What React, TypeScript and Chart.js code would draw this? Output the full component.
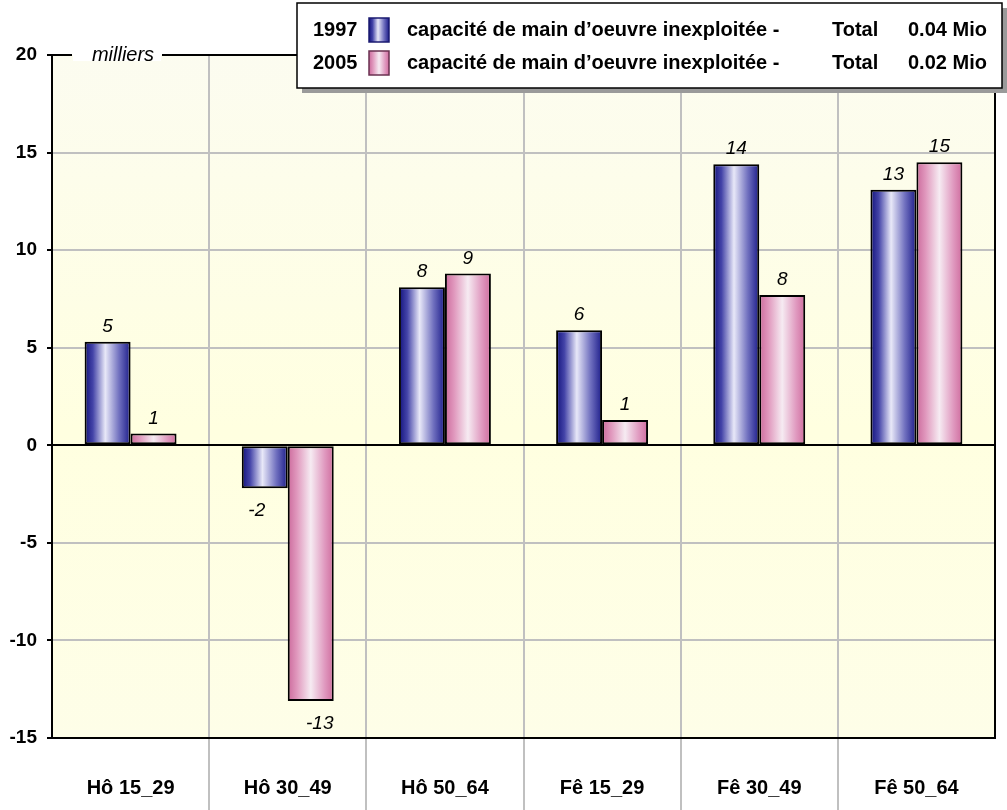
import React, { useEffect, useRef } from "react";
import { Chart, registerables } from "chart.js";

Chart.register(...registerables);

// ---------- data ----------
const categories = ["Hô 15_29", "Hô 30_49", "Hô 50_64", "Fê 15_29", "Fê 30_49", "Fê 50_64"];
const values1997 = [5.3, -2.2, 8.1, 5.9, 14.4, 13.1];
const values2005 = [0.6, -13.1, 8.8, 1.3, 7.7, 14.5];
const seriesYears = ["1997", "2005"];
const seriesLabel = "capacité de main d’oeuvre inexploitée -";
const totalLabel = "Total";
const totals = ["0.04 Mio", "0.02 Mio"];
const yTickValues = [-15, -10, -5, 0, 5, 10, 15, 20];
const unitLabel = "milliers";

// ---------- styles ----------
const FONT = '"Liberation Sans", Arial, Helvetica, sans-serif';
const CAT_PCT = 0.585;
const Y_MIN = -15;
const Y_MAX = 20;

const blueStops: [number, string][] = [
  [0, "#12127c"],
  [0.18, "#4444a8"],
  [0.45, "#e8e8f8"],
  [0.75, "#7070bf"],
  [1, "#1c1c8a"],
];
const pinkStops: [number, string][] = [
  [0, "#cc6a9c"],
  [0.2, "#e098bd"],
  [0.5, "#f6ebf2"],
  [0.8, "#e09ac0"],
  [1, "#cf6c9e"],
];

function barGradient(stops: [number, string][]) {
  return (ctx: any) => {
    const chart = ctx.chart;
    const a = chart.chartArea;
    const xs = chart.scales && chart.scales.x;
    if (!a || !xs || ctx.type !== "data") return stops[2][1];
    const center = xs.getPixelForValue(ctx.dataIndex);
    const cat = (a.right - a.left) / categories.length;
    const w = (cat * CAT_PCT) / 2;
    const left = ctx.datasetIndex === 0 ? center - w : center;
    const g = chart.ctx.createLinearGradient(left, 0, left + w, 0);
    stops.forEach(([o, c]) => g.addColorStop(o, c));
    return g;
  };
}

function drawText(
  ctx: CanvasRenderingContext2D,
  text: string,
  x: number,
  y: number,
  font: string,
  align: CanvasTextAlign,
  baseline: CanvasTextBaseline
) {
  ctx.save();
  ctx.font = font;
  ctx.textAlign = align;
  ctx.textBaseline = baseline;
  ctx.fillStyle = "#000";
  ctx.fillText(text, x, y);
  ctx.restore();
}

const customPlugin = {
  id: "customDecor",
  beforeDraw(chart: any) {
    const { ctx, chartArea: a } = chart;
    ctx.save();
    ctx.fillStyle = "#fff";
    ctx.fillRect(0, 0, chart.width, chart.height);
    const g = ctx.createLinearGradient(0, a.top, 0, a.bottom);
    g.addColorStop(0, "#fcfcf0");
    g.addColorStop(0.55, "#ffffe0");
    g.addColorStop(1, "#fefee8");
    ctx.fillStyle = g;
    ctx.fillRect(a.left, a.top, a.right - a.left, a.bottom - a.top);
    ctx.restore();
  },
  afterDatasetsDraw(chart: any) {
    const { ctx } = chart;
    chart.data.datasets.forEach((ds: any, di: number) => {
      const meta = chart.getDatasetMeta(di);
      meta.data.forEach((el: any, i: number) => {
        const v = ds.data[i];
        const txt = String(Math.round(v));
        ctx.save();
        ctx.font = `italic 19px ${FONT}`;
        ctx.fillStyle = "#000";
        ctx.textAlign = "center";
        if (v >= 0) {
          ctx.textBaseline = "alphabetic";
          ctx.fillText(txt, el.x, el.y - 10);
        } else {
          ctx.textBaseline = "top";
          ctx.fillText(txt, el.x + (di === 0 ? -8 : 9), el.y + 13);
        }
        ctx.restore();
      });
    });
  },
  afterDraw(chart: any) {
    const { ctx, chartArea: a } = chart;
    const xs = chart.scales.x;
    const n = categories.length;
    const cat = (a.right - a.left) / n;

    // grid extensions below the plot
    ctx.save();
    ctx.strokeStyle = "#c0c0c0";
    ctx.lineWidth = 2;
    for (let i = 1; i < n; i++) {
      const x = Math.round(a.left + cat * i);
      ctx.beginPath();
      ctx.moveTo(x, a.bottom + 1);
      ctx.lineTo(x, chart.height);
      ctx.stroke();
    }
    ctx.restore();

    // frame: right border and top line with unit label
    ctx.save();
    ctx.strokeStyle = "#000";
    ctx.lineWidth = 2;
    ctx.beginPath();
    ctx.moveTo(a.right, a.top);
    ctx.lineTo(a.right, a.bottom + 1);
    ctx.moveTo(a.left - 5, a.top);
    ctx.lineTo(a.left + 20, a.top);
    ctx.moveTo(a.left + 110, a.top);
    ctx.lineTo(a.right, a.top);
    ctx.stroke();
    ctx.fillStyle = "#fff";
    ctx.fillRect(a.left + 21, a.top - 10, 88, 16);
    ctx.restore();
    drawText(ctx, unitLabel, a.left + 71, a.top, `italic 20px ${FONT}`, "center", "middle");

    // x labels
    categories.forEach((c, i) => {
      const x = xs.getPixelForValue(i);
      drawText(ctx, c, x, 788, `bold 20px ${FONT}`, "center", "middle");
    });

    // legend
    const L = { x: 297, y: 3, w: 705, h: 85 };
    ctx.save();
    ctx.fillStyle = "#9a9a9a";
    ctx.fillRect(L.x + 5, L.y + 5, L.w, L.h);
    ctx.fillStyle = "#fff";
    ctx.fillRect(L.x, L.y, L.w, L.h);
    ctx.strokeStyle = "#000";
    ctx.lineWidth = 1.5;
    ctx.strokeRect(L.x, L.y, L.w, L.h);
    ctx.restore();

    const rows = [30, 63];
    const swStops = [blueStops, pinkStops];
    const swBorder = ["#1a1a70", "#6a3050"];
    rows.forEach((ry, r) => {
      const font = `bold 20px ${FONT}`;
      drawText(ctx, seriesYears[r], 313, ry, font, "left", "middle");
      ctx.save();
      const g = ctx.createLinearGradient(369, 0, 389, 0);
      swStops[r].forEach(([o, c]) => g.addColorStop(o, c));
      ctx.fillStyle = g;
      ctx.fillRect(369, ry - 12, 20, 24);
      ctx.strokeStyle = swBorder[r];
      ctx.lineWidth = 1.5;
      ctx.strokeRect(369, ry - 12, 20, 24);
      ctx.restore();
      drawText(ctx, seriesLabel, 407, ry, font, "left", "middle");
      drawText(ctx, totalLabel, 832, ry, font, "left", "middle");
      drawText(ctx, totals[r], 908, ry, font, "left", "middle");
    });
  },
};

export default function App() {
  const ref = useRef<HTMLCanvasElement>(null);

  useEffect(() => {
    const canvas = ref.current;
    if (!canvas) return;
    const chart = new Chart(canvas, {
      type: "bar",
      data: {
        labels: categories,
        datasets: [
          {
            label: seriesYears[0],
            data: values1997,
            backgroundColor: barGradient(blueStops) as any,
            borderColor: "#000",
            borderWidth: 2,
            borderSkipped: false,
            categoryPercentage: CAT_PCT,
            barPercentage: 1,
          },
          {
            label: seriesYears[1],
            data: values2005,
            backgroundColor: barGradient(pinkStops) as any,
            borderColor: "#000",
            borderWidth: 2,
            borderSkipped: false,
            categoryPercentage: CAT_PCT,
            barPercentage: 1,
          },
        ],
      },
      options: {
        responsive: false,
        maintainAspectRatio: false,
        devicePixelRatio: 1,
        animation: false,
        layout: { padding: { top: 55, right: 12, left: 0, bottom: 0 } },
        plugins: {
          legend: { display: false },
          tooltip: { enabled: false },
          title: { display: false },
        },
        scales: {
          x: {
            offset: true,
            ticks: { display: false },
            grid: {
              display: true,
              offset: true,
              drawTicks: false,
              lineWidth: 2,
              color: (c: any) => (c.index === 0 ? "#000" : "#c0c0c0"),
            },
            border: { display: true, color: "#000", width: 2 },
            afterFit: (s: any) => {
              s.height = 72;
            },
          },
          y: {
            min: Y_MIN,
            max: Y_MAX,
            afterBuildTicks: (s: any) => {
              s.ticks = yTickValues.map((v) => ({ value: v }));
            },
            ticks: {
              color: "#000",
              font: { family: FONT, size: 19, weight: "bold" },
              padding: 10,
            },
            grid: {
              lineWidth: 2,
              tickLength: 5,
              tickWidth: 2,
              tickColor: "#000",
              color: (c: any) => {
                const v = c.tick && c.tick.value;
                if (v === 0 || v === Y_MIN) return "#000";
                if (v === Y_MAX) return "rgba(0,0,0,0)";
                return "#c0c0c0";
              },
            },
            border: { display: true, color: "#000", width: 2 },
            afterFit: (s: any) => {
              s.width = 52;
            },
          },
        },
      },
      plugins: [customPlugin],
    });
    return () => chart.destroy();
  }, []);

  return (
    <div style={{ position: "absolute", left: 0, top: 0, width: 1007, height: 810 }}>
      <canvas ref={ref} width={1007} height={810} style={{ display: "block", width: 1007, height: 810 }} />
    </div>
  );
}
